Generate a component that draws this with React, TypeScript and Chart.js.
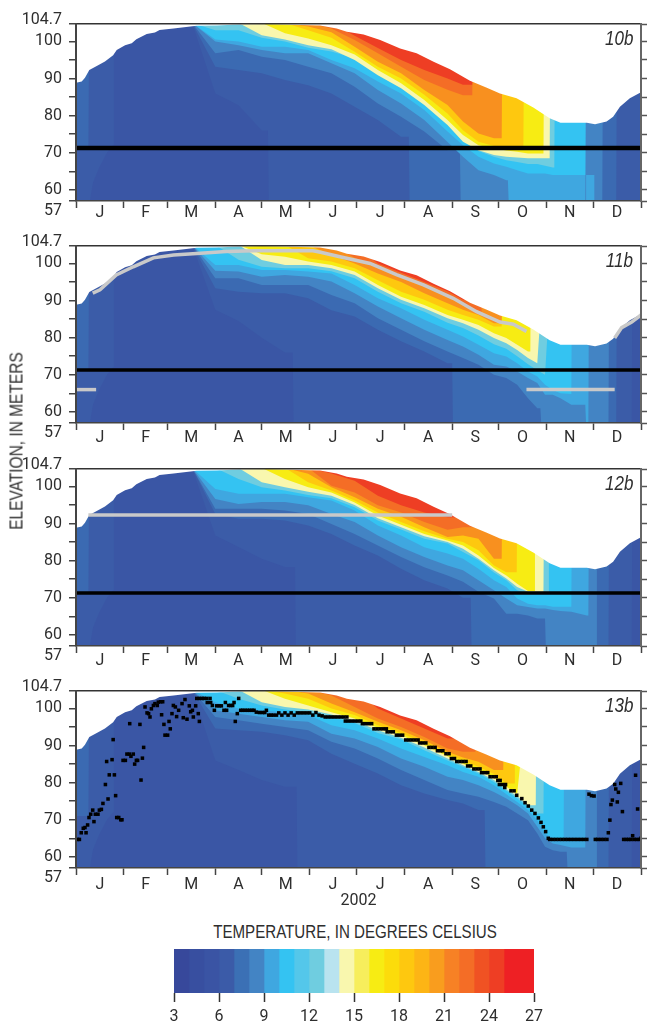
import React, { useEffect, useRef } from "react";
import Chart from "chart.js/auto";

const TICK_FONT = "Roboto, 'Liberation Sans', sans-serif";
const TEXT_FONT = "'Liberation Sans', sans-serif";
const INK = "#2e2e2e";
const X = 105; // isotherm absent at this knot: it runs off above the lake surface

const MONTH_STARTS = [0, 31, 59, 90, 120, 151, 181, 212, 243, 273, 304, 334, 365];
const MONTH_LABELS = ["J", "F", "M", "A", "M", "J", "J", "A", "S", "O", "N", "D"];
const Y_TICKS = [57, 60, 65, 70, 75, 80, 85, 90, 95, 100, 104.7];
const RELEASE_ELEVATION = 71.3;

const KNOTS = [0, 7, 15, 30, 45, 60, 75, 90, 105, 120, 135, 150, 165, 180, 195, 210, 225, 240, 250, 260, 270, 278, 285, 292, 298, 303, 308, 313, 320, 330, 340, 350, 358, 365];

const SURFACE_DAYS = [0, 3.7, 5.8, 8.6, 13.4, 18.7, 24, 26.3, 31.7, 36, 39, 45.7, 51, 54, 63, 78, 91, 101, 120, 157.6, 168.4, 175, 185.8, 196.5, 209.4, 220, 231, 241.6, 254.5, 265, 273.9, 284.6, 295.4, 306, 313, 330, 335.3, 342.8, 347, 351.4, 357.8, 365];
const SURFACE_ELEV = [88.9, 89.2, 90.2, 92.3, 93.4, 94.6, 96.3, 97.7, 99, 99.5, 100.6, 102, 102.4, 103.1, 103.5, 104.2, 104.3, 104.5, 104.7, 104.3, 103.5, 102.6, 101.9, 100.4, 98.1, 96.8, 94.5, 92.5, 89.4, 87.6, 86, 84.7, 82.2, 79.3, 78.1, 78.1, 77.7, 78.4, 79.7, 82.4, 84.7, 86.3];

const BASE_COLOR = "#3a56a5";
const LEVEL_COLORS = ["#3b5ca8", "#3b6ab2", "#4384c4", "#3fa7e0", "#34c3f2", "#6fcde0", "#f9f7ae", "#f7ec13", "#fec80f", "#f8901f", "#f46d26", "#ee3e24"];

// Early-January cool-water bands, shared by the panels: [day, elevation]
const JAN_L6 = [[0, 57], [9, 57], [11, 62], [15, 66], [20, 70], [24, 72], [24.5, X], [365, X]];
const JAN_L7 = [[0, 71], [8, 71], [8.5, X], [365, X]];

// Each array: elevation of one isotherm at each knot (levels 6,7,8,9,10,12,14,16,18,20,22,24 C)
const P10_L6 = [X, X, X, X, X, X, X, 86, 82.8, 76, 57, 57, 57, 57, 57, 57, 57, 57, 57, 57, 57, 57, 57, 57, 57, 57, 57, 57, 57, 57, 57, 57, 57, 57];
const P10_L7 = [X, X, X, X, X, X, X, 93.2, 92.3, 91.4, 89.6, 88.2, 86, 82.4, 78.8, 74.3, 57, 57, 57, 57, 57, 57, 57, 57, 57, 57, 57, 57, 57, 57, 57, 57];
const P10_L8 = [X, X, X, X, X, X, X, 96.8, 97.7, 95.9, 95, 93.2, 91.4, 87.8, 83.3, 79.7, 75.7, 70.7, 57, 57, 57, 57, 57, 57, 57, 57, 57, 57, 57, 57];
const P10_L9 = [X, X, X, X, X, X, X, 100, 99, 97.7, 96.8, 96.8, 94.1, 91.4, 86.9, 83.3, 78.8, 72.9, 68.9, 65.3, 64, 62.6, 57, 57, 57, 57, 57, 57, 57];
const P10_L10 = [X, X, X, X, X, X, X, 100.5, 100, 98.6, 98.6, 97.7, 95, 92.8, 89.2, 86, 81.5, 75.7, 72, 68.9, 67.1, 66.2, 65.3, 64.4, 64.4, 64.4, 64, 64, 64];
const P10_L12 = [X, X, X, X, X, X, X, 103, 103, 101, 100, 98.3, 97.3, 95.5, 91.5, 88, 84, 78, 73.5, 70.5, 68.9, 68, 67.5, 67, 67, 66.5, 66];
const P10_L14 = [X, X, X, X, X, X, X, X, X, 101.7, 100.5, 99, 97.9, 95, 90.9, 87.4, 82.9, 77.5, 73, 70.7, 69.4, 68.9, 68.7, 68.5, 68.5, 68.5];
const P10_L16 = [X, X, X, X, X, X, X, X, X, X, 102.2, 100.8, 99, 96.5, 92.3, 88.7, 84.2, 78.8, 74.8, 72, 71.2, 70.6, 70.3, 69.8, 69.8];
const P10_L18 = [X, X, X, X, X, X, X, X, X, X, X, 103, 101, 97.2, 93.2, 90, 85.6, 80.6, 76.1, 73, 71.8, 71.5, 71.4];
const P10_L20 = [X, X, X, X, X, X, X, X, X, X, X, 104, 102.5, 98.6, 94.5, 91.4, 86.9, 82.9, 78.4, 75.2, 73.9];
const P10_L22 = [X, X, X, X, X, X, X, X, X, X, X, X, 103.5, 100.4, 96.8, 93.2, 89.6, 87, 85.5];
const P10_L24 = [X, X, X, X, X, X, X, X, X, X, X, X, X, 101.5, 98.2, 95, 92.3, 90, 88.3];
const P10_DROP = [124, 215, 248, 279, null, null, null, null, null, null, null, null];
const P10_END = [365, 349, 340, 329, 329, 309, 306, 302, 289, 275, 256, 256];

const P11_L6 = [X, X, X, X, X, X, X, 87.5, 84.5, 80, 76, 57, 57, 57, 57, 57, 57, 57, 57, 57, 57, 57, 57, 57, 57, 57, 57, 57, 57, 57, 57, 57, 57];
const P11_L7 = [X, X, X, X, X, X, X, 93.3, 92.4, 92, 92, 90.6, 87.4, 85.7, 82.1, 79, 76.3, 73.1, 57, 57, 57, 57, 57, 57, 57, 57, 57, 57, 57, 57, 57, 57];
const P11_L8 = [X, X, X, X, X, X, X, 96, 96, 94.2, 94.2, 94.2, 91.5, 89.3, 85.2, 82.1, 79, 76.3, 74.5, 72.7, 70, 69.1, 67.3, 63.7, 61, 57, 57, 57, 57, 57, 57];
const P11_L9 = [X, X, X, X, X, X, X, 98, 97.8, 96.4, 96.9, 96.4, 95.1, 92, 88.4, 85.2, 82.1, 79.4, 77.6, 75.4, 72.7, 72.2, 70.9, 69.1, 67.8, 64.6, 64.6, 63.7, 61.9, 57];
const P11_L10 = [X, X, X, X, X, X, X, 99.6, 99.6, 98.2, 98.2, 97.8, 97.3, 94.2, 90.6, 87.9, 84.8, 82.1, 80.3, 78.1, 75.8, 74.9, 73.1, 70.9, 69.5, 67.3, 65.9, 65, 64.8];
const P11_L12 = [X, X, X, X, X, X, X, X, 101, 99.1, 98.7, 98.7, 97.9, 96, 92.4, 89.3, 87, 84, 82.6, 80.6, 78.2, 77, 75, 72.8, 71.2, 70];
const P11_L14 = [X, X, X, X, X, X, X, X, X, 100.9, 99.6, 99.6, 98.7, 96.9, 93.3, 90.2, 87.9, 85.2, 83.9, 82.1, 79.9, 78.5, 76.7, 74.5, 73.1];
const P11_L16 = [X, X, X, X, X, X, X, X, X, 102.5, 101.8, 100.5, 99.6, 97.8, 94.2, 91, 88.8, 86.1, 84.8, 83.4, 81.2, 79.9, 78.1, 76.3];
const P11_L18 = [X, X, X, X, X, X, X, X, X, X, X, 101.4, 100.5, 98.7, 95.5, 92.4, 90.2, 87.5, 86.1, 84.8, 83];
const P11_L20 = [X, X, X, X, X, X, X, X, X, X, X, X, 102.3, 100, 97.3, 95, 92, 89.3, 87.5, 86.1, 83.9];
const P11_L22 = [X, X, X, X, X, X, X, X, X, X, X, X, X, 101.5, 99.1, 96.9, 94.2, 91.5, 89, 87];
const P11_L24 = [X, X, X, X, X, X, X, X, X, X, X, X, X, X, 100, 97.5, 95, 92.5, 90.2];
const P11_DROP = [140, 243, 300, 329, null, null, null, null, null, null, null, null];
const P11_END = [359, 349, 344, 331, 320, 309, 303, 293.5, 275, 275, 262, 255];

const P12_L6 = [X, X, X, X, X, X, X, 86.8, 83.7, 80.5, 78.3, 57, 57, 57, 57, 57, 57, 57, 57, 57, 57, 57, 57, 57, 57, 57, 57, 57, 57, 57, 57, 57, 57];
const P12_L7 = [X, X, X, X, X, X, X, 92.6, 91.3, 91.3, 90.8, 89.5, 87.2, 84.1, 81.4, 77.8, 74.7, 72.5, 70, 57, 57, 57, 57, 57, 57, 57, 57, 57, 57, 57, 57];
const P12_L8 = [X, X, X, X, X, X, X, 94, 94, 94, 93.5, 92.6, 89.9, 87.2, 84.1, 81, 78.2, 76, 74.3, 71.6, 69.8, 65.7, 65.7, 65.2, 64.4, 57, 57, 57, 57, 57];
const P12_L9 = [X, X, X, X, X, X, X, 96.6, 95.3, 95.8, 95.8, 94.9, 92.6, 90.4, 86.8, 83.6, 81, 78.7, 77.4, 74.7, 72, 69.8, 68, 67.5, 67.1, 67.1, 66.7, 66.4, 66.2, 65.2];
const P12_L10 = [X, X, X, X, X, X, X, 99.3, 98, 98, 98, 97.1, 96.2, 93.5, 89.5, 86.8, 83.6, 81.9, 80.5, 77.8, 74.7, 72.9, 69.8, 68.4, 68, 68, 67.6, 67.6, 67.6];
const P12_L12 = [X, X, X, X, X, X, X, X, 102, 99.8, 98.9, 97.7, 96.8, 94.4, 90.8, 88.4, 85.9, 84.6, 82.3, 80.1, 76.8, 74.7, 72, 71.1, 71.1, 71.1];
const P12_L14 = [X, X, X, X, X, X, X, X, X, 101.1, 99.8, 98.6, 97.5, 95, 91.4, 89, 86.6, 85, 83.2, 80.5, 77.4, 75.2, 72.9, 71.6, 71.6];
const P12_L16 = [X, X, X, X, X, X, X, X, X, X, 102, 99.8, 98.4, 95.7, 92.2, 89.7, 87.2, 85.4, 84.1, 81.4, 78, 76, 73.8, 71.8];
const P12_L18 = [X, X, X, X, X, X, X, X, X, X, X, 101.1, 98.9, 96.2, 93, 90.4, 87.9, 85.9, 85, 82.8, 78.7, 76.9];
const P12_L20 = [X, X, X, X, X, X, X, X, X, X, X, 103.4, 99.8, 97.1, 94, 91.8, 89, 86.4, 86.8, 85.9, 80.5];
const P12_L22 = [X, X, X, X, X, X, X, X, X, X, X, X, 100.2, 98.4, 94.9, 93, 90.4, 88.3, 89];
const P12_L24 = [X, X, X, X, X, X, X, X, X, X, X, X, 103.5, 101.5, 97.5, 94.9, 93, 91.7];
const P12_DROP = [141.5, 255, 303, null, null, null, null, null, null, null, null, null];
const P12_END = [359, 344, 336, 331, 320, 305, 302, 296, 284.7, 275, 258, 248];

const P13_L6 = [X, X, X, X, X, X, X, 86, 83.4, 80.7, 78.9, 57, 57, 57, 57, 57, 57, 57, 57, 57, 57, 57, 57, 57, 57, 57, 57, 57, 57, 57, 57, 57, 57];
const P13_L7 = [X, X, X, X, X, X, X, 94.6, 94.1, 93.7, 92.8, 91.4, 87.8, 85.1, 82.5, 79.3, 77.1, 75.3, 74.4, 72.6, 57, 57, 57, 57, 57, 57, 57, 57, 57, 57, 57];
const P13_L8 = [X, X, X, X, X, X, X, 97.7, 96.8, 95.9, 95, 94.1, 91, 89.2, 86.5, 83.4, 80.7, 78, 77.1, 76.2, 74.8, 73.5, 71.7, 69.9, 66.3, 62.7, 61.8, 61.4, 57, 57];
const P13_L9 = [X, X, X, X, X, X, X, 99.5, 98.6, 97.7, 96.8, 96.4, 93.2, 91.9, 89.6, 86.5, 84.3, 81.6, 80.7, 79.3, 77.5, 75.7, 73.9, 71.7, 68.1, 65, 63.6, 63.2, 62.5];
const P13_L10 = [X, X, X, X, X, X, X, 101.7, 100, 99.5, 99, 98.2, 95.5, 94.1, 91.9, 89.2, 86.9, 84.7, 82.9, 81.6, 79.3, 76.9, 74.8, 72.6, 69.9, 66.3, 65, 64.5];
const P13_L12 = [X, X, X, X, X, X, X, X, 102.6, 100.8, 99.7, 99, 97.7, 96.1, 93.4, 91.6, 88.7, 86, 84.3, 82.5, 80.2, 77.8, 75.7, 73.5, 71.7];
const P13_L14 = [X, X, X, X, X, X, X, X, X, 101.7, 100.4, 99.7, 98.4, 96.6, 94.1, 92.1, 89.5, 86.5, 84.7, 82.9, 80.7, 78.2, 76.4, 73.9];
const P13_L16 = [X, X, X, X, X, X, X, X, X, X, 102.6, 100.8, 99, 97.3, 94.8, 92.8, 90.1, 87.1, 85.1, 83.4, 81.4, 78.9, 77.1];
const P13_L18 = [X, X, X, X, X, X, X, X, X, X, 104, 102.6, 100, 98.2, 95.5, 93.4, 90.7, 87.7, 86, 84.3, 82.3, 79.8];
const P13_L20 = [X, X, X, X, X, X, X, X, X, X, X, 104, 101.3, 99, 96.4, 94.1, 91.4, 88.3, 86.8, 85.6, 83.4];
const P13_L22 = [X, X, X, X, X, X, X, X, X, X, X, X, 103.5, 100.4, 97.3, 95, 92.3, 89.2, 88.3];
const P13_L24 = [X, X, X, X, X, X, X, X, X, X, X, X, X, X, 100, 97.3, 94.6, 91.9];
const P13_DROP = [142.5, 264, 317, null, null, null, null, null, null, null, null, null];
const P13_END = [359, 344, 336, 329, 315, 302, 297, 292.5, 283, 276, 258, 248];

// Deep warm patch under cooler water in 10b: [day, elevation]
const PATCH_10 = [[329.5, 64], [335, 64]];

// grey withdrawal lines: [day, elevation]
const GREY_11A = [[0, 66], [13, 66]];
const GREY_11B = [[291, 66], [348, 66]];
const GREY_11C = [[10.8, 92], [15.5, 92.9], [26, 96.9], [37, 99.1], [50, 101.5], [63, 102.3], [78, 102.7], [97, 103.2], [115, 103.4], [153, 103.4], [158, 103], [170.5, 101.8], [190, 100], [207, 97], [224.5, 94.2], [243.7, 90.6], [258.8, 87], [273.9, 84.2], [282.5, 83.6], [291, 81.7]];
const GREY_11D = [[348, 79.9], [352.5, 82.7], [359, 84.2], [365, 86.1]];
const GREY_12A = [[8, 92.3], [243, 92.3]];

// black 13b points: [day, elevation]
const DOTS_13 = [
  [0.9, 64.7], [2.2, 64.7], [3.4, 66.5], [4.7, 67.7], [5.8, 67.9], [6.5, 66.5], [7.5, 68.6], [8.4, 70.6], [9.5, 71.5], [10.8, 72.6], [11.6, 69.5], [12.5, 71.5], [14.2, 71.5], [15.1, 72.6], [16.4, 72.8], [17.4, 74.4], [19, 79.5], [19.8, 85.7], [20.7, 75.6], [21.5, 82.1], [23.3, 86.2], [24, 91.6], [24.8, 82.1], [25.6, 76.5], [26.3, 70.6], [27.6, 70.6], [28.9, 70], [29.7, 70],
  [30.4, 86], [31.9, 86], [32.9, 87.7], [34.5, 87.7], [34.7, 95.9], [35.5, 87.1], [37, 87.7], [37.9, 85], [39, 86], [39.8, 86], [41.3, 95.7], [42, 80.7], [42.9, 86.6], [43.7, 89.5], [44.6, 100.4], [45.9, 98.8], [46.9, 98.6], [47.8, 97.7], [48.7, 99.9], [50, 100.8], [51, 101.3], [52.5, 100.8], [53.2, 101.7], [54.7, 101.8], [56, 101.8], [55.3, 98.3], [56.8, 95.7], [57.5, 92.8], [59.2, 92.8],
  [60.1, 96.5], [60.9, 94.5], [62, 98.6], [62.9, 100.8], [64.2, 100.4], [65, 97.8], [66.3, 99.5], [68.5, 101.3], [69.3, 97.5], [70.4, 102.4], [71.7, 97.1], [73.2, 100.7], [74.1, 99.1], [75.2, 99.5], [75.8, 97.7], [77.3, 100.7], [79, 98.6], [79.7, 96.5], [78, 102.7], [79.7, 102.7], [81.4, 102.7], [82.7, 102.7], [84.4, 102.7], [86.6, 102.7], [84.8, 101.6], [87, 101.6], [88.1, 100.8], [89.4, 99.5],
  [90.9, 100.7], [92.6, 100.7], [93.9, 100.7], [95.6, 99.5], [96.5, 101.6], [97.3, 99.5], [98.6, 100.8], [99.9, 100.8], [101.2, 100.8], [102.1, 101.6], [102.9, 96.5], [104.2, 98.6], [105.1, 102.7], [106.4, 99.5], [107.7, 99.5], [109.2, 99.5], [110.7, 99.5], [112.2, 99.5], [113.7, 99.5], [115, 99.5], [116.5, 99], [118.5, 98.9], [120.5, 98.9], [122, 98.9],
  [123, 99.5], [124.5, 98.2], [126, 98.2], [127.5, 98.2], [129.5, 98.2], [131, 98.8], [133, 98.2], [135, 98.8], [137, 98.2], [139, 98.8], [141, 98.2], [143, 98.8], [145, 98.8], [147, 98.8], [149, 98.8], [151, 98.8], [153, 98.2], [155, 98.9], [157, 98.2], [159, 98], [161, 97.7], [163, 97.7], [165, 97.7], [167, 97.7], [169, 97.7], [171, 97.7], [173, 97.7], [175, 97.7], [174, 96.6], [176, 96.6], [178, 96.6], [180, 96.6], [182, 96.6], [184, 96.6],
  [185, 95.9], [187, 95.9], [189, 95.9], [191, 95.9], [192.5, 94.5], [194.5, 94.5], [196.5, 94.5], [198.5, 94.5], [200.5, 94.5], [201, 93.7], [203, 93.7], [205, 93.7], [207, 92.8], [209, 92.8], [211, 92.8], [213, 91.5], [215, 91.5], [217, 91.5], [219, 91.5], [221, 91.5], [222, 90.7], [224, 90.7], [226, 90.7], [228, 89.5], [230, 89.5], [232, 89.5], [233.5, 88.6], [235.5, 88.6], [237, 88.6], [239, 87.8], [241, 87.8],
  [242.5, 86.5], [244.5, 86.5], [246, 85.7], [248, 85.7], [250, 85.7], [252, 85.7], [253, 84.5], [255, 84.5], [257, 83.7], [259, 83.7], [261, 83.7], [262, 82.7], [264, 82.7], [266, 82.7], [267.5, 81.6], [269.5, 81.6], [271.5, 81.6], [272.5, 80.6], [274, 80.6], [273.5, 79.5], [275.5, 79.5], [277.5, 79.5], [277, 78.7], [281, 77.8], [283, 77.8], [284.7, 76.6], [288, 75.7], [290.1, 74.6], [292.2, 73.7], [294.4, 72.6], [296.5, 71.7], [298.7, 70.5], [300.4, 69.3], [301.9, 68.1], [303.4, 66.8], [305.1, 65],
  [306, 64.7], [308, 64.7], [310, 64.7], [312, 64.7], [314, 64.7], [316, 64.7], [318, 64.7], [320, 64.7], [322, 64.7], [324, 64.7], [326, 64.7], [328, 64.7], [330, 64.7], [331.4, 76.9], [333, 76.5], [334.7, 76.4], [335.5, 64.7], [337, 64.7], [339, 64.7], [341, 64.7], [343, 64.7], [343.9, 66.5], [344.9, 69.9], [345.6, 74.1], [346.5, 75.3], [348, 79.5], [348.7, 78.3], [349.7, 74.8], [350.4, 77.4], [351.9, 79.8], [353, 72.2], [353.8, 64.7], [355.5, 64.7], [357, 64.7], [358.5, 64.7], [359.6, 65.7], [360.5, 64.7], [361.5, 82], [362.2, 64.7], [362.8, 72.9], [364, 64.7], [365, 65],
];

const TEMP_TICKS = [3, 6, 9, 12, 15, 18, 21, 24, 27];
const TEMP_BANDS = [3, 4, 5, 6, 7, 8, 9, 10, 11, 12, 13, 14, 15, 16, 17, 18, 19, 20, 21, 22, 23, 24, 25, 27];
const TEMP_COLORS = ["#37489b", "#384fa0", "#3a54a4", "#3b5ba8", "#3b70b5", "#4384c4", "#3fa7e0", "#34c3f2", "#54c7ea", "#6fcde0", "#b9e3ef", "#f9f7ae", "#f7ee5c", "#f7ec13", "#fcdc0b", "#fec80f", "#fdb515", "#f99d1e", "#f78125", "#f46d26", "#f05223", "#ee3e24", "#ee2024"];

type Line = { pts: number[][]; color: string; width: number };
const noPad = (s: any) => { s.paddingTop = 0; s.paddingBottom = 0; s.paddingLeft = 0; s.paddingRight = 0; };
const TOP_PAD = 20;

// One isotherm becomes chart points: it follows the knots, falls straight to the
// lake bed on its drop day and leaves the water column on its end day.
function layerPoints(arr: number[], drop: number | null, end: number) {
  const pts: { x: number; y: number }[] = [];
  let last = X;
  for (let i = 0; i < KNOTS.length; i++) {
    const d = KNOTS[i];
    if (d > end) break;
    if (drop != null && d >= drop) break;
    last = arr[i] ?? X;
    pts.push({ x: d, y: last });
  }
  if (drop != null && drop <= end) {
    pts.push({ x: drop, y: last }, { x: drop + 0.5, y: 57 });
    last = 57;
  }
  if (end < 365) pts.push({ x: end, y: last }, { x: end + 0.5, y: X }, { x: 365, y: X });
  else pts.push({ x: 365, y: last });
  return pts;
}

function Panel({ top, layers, drops, ends, lines, dots, patch, labelPad, axisHeight, year }: any) {
  const ref = useRef<HTMLCanvasElement>(null);
  useEffect(() => {
    const fillDs = (data: any[], color: string, fill: string, order: number) => ({
      data, fill, backgroundColor: color, borderWidth: 0, pointRadius: 0, order,
    });
    const toXY = (pts: number[][]) => pts.map(([x, y]) => ({ x, y }));
    const datasets: any[] = [fillDs(toXY([[0, X], [365, X]]), BASE_COLOR, "start", 100)];
    datasets.push(fillDs(toXY(JAN_L6), LEVEL_COLORS[0], "end", 95));
    datasets.push(fillDs(toXY(JAN_L7), LEVEL_COLORS[1], "end", 94));
    layers.forEach((arr: number[], k: number) => {
      datasets.push(fillDs(layerPoints(arr, drops[k], ends[k]), LEVEL_COLORS[k], "end", 90 - k));
    });
    if (patch) datasets.push(fillDs(toXY(patch), LEVEL_COLORS[3], "start", 30));
    datasets.push(fillDs(SURFACE_DAYS.map((x, i) => ({ x, y: SURFACE_ELEV[i] })), "#fff", "end", 20));
    (lines as Line[]).forEach((l) => {
      datasets.push({
        data: toXY(l.pts),
        borderColor: l.color,
        borderWidth: l.width,
        pointRadius: 0,
        fill: false,
        borderCapStyle: "butt",
        order: 5,
      });
    });
    if (dots) {
      datasets.push({
        data: toXY(dots),
        showLine: false,
        pointStyle: "rect",
        pointRadius: 2.5,
        pointBorderWidth: 0,
        pointBackgroundColor: "#000",
        order: 1,
      });
    }
    const monthMids = MONTH_LABELS.map((_, i) => (MONTH_STARTS[i] + MONTH_STARTS[i + 1]) / 2);
    const chart = new Chart(ref.current!, {
      type: "line",
      data: { datasets },
      options: {
        animation: false,
        responsive: false,
        layout: { padding: { top: TOP_PAD, left: 0, right: 0, bottom: 0 } },
        plugins: { legend: { display: false }, tooltip: { enabled: false } },
        scales: {
          x: {
            type: "linear",
            min: 0,
            max: 365,
            afterBuildTicks: (s: any) => {
              s.ticks = [...MONTH_STARTS, ...monthMids].sort((a, b) => a - b).map((value) => ({ value }));
            },
            afterFit: (s: any) => { s.height = axisHeight; noPad(s); },
            border: { color: "#444", width: 1.5, z: 1 },
            grid: {
              z: 1,
              drawOnChartArea: false,
              tickLength: 7,
              tickWidth: 1.5,
              tickColor: (c: any) => (MONTH_STARTS.includes(c.tick.value) ? "#444" : "rgba(0,0,0,0)"),
            },
            ticks: {
              autoSkip: false,
              maxRotation: 0,
              padding: labelPad,
              color: INK,
              font: { family: TICK_FONT, size: 16 },
              callback: (v: any) => {
                const i = monthMids.indexOf(v);
                return i >= 0 ? MONTH_LABELS[i] : "";
              },
            },
            title: year
              ? { display: true, text: year, color: INK, font: { family: TICK_FONT, size: 16 }, padding: { top: 0, bottom: 3 } }
              : { display: false },
          },
          y: {
            min: 57,
            max: 104.7,
            afterBuildTicks: (s: any) => { s.ticks = Y_TICKS.map((value) => ({ value })); },
            afterFit: (s: any) => { s.width = 76; noPad(s); },
            border: { color: "#444", width: 2, z: 1 },
            grid: {
              z: 1,
              drawOnChartArea: true,
              lineWidth: 1.5,
              color: (c: any) => (c.tick && c.tick.value === 104.7 ? "#333" : "rgba(0,0,0,0)"),
              tickLength: 7,
              tickWidth: 1.5,
              tickColor: "#444",
            },
            ticks: {
              autoSkip: false,
              padding: 7,
              color: INK,
              font: (c: any) => ({
                family: TICK_FONT,
                size: 16,
                lineHeight: c.tick && c.tick.value === 104.7 ? 0.5 : c.tick && c.tick.value === 57 ? 1.2 : 1.2,
              }),
              callback: (v: any) => {
                if (v === 57) return ["", "57"];
                if (v === 104.7) return ["104.7", ""];
                return v % 10 === 0 ? String(v) : "";
              },
            },
          },
          y2: {
            position: "right",
            min: 57,
            max: 104.7,
            afterBuildTicks: (s: any) => { s.ticks = Y_TICKS.map((value) => ({ value })); },
            afterFit: (s: any) => { s.width = 6; noPad(s); },
            border: { color: "#666", width: 2, z: 1 },
            grid: { z: 1, drawOnChartArea: false, tickLength: 6, tickWidth: 1.5, tickColor: "#555" },
            ticks: { display: false, autoSkip: false },
          },
        },
      } as any,
    });
    return () => chart.destroy();
  }, []);
  return (
    <canvas
      ref={ref}
      width={647}
      height={TOP_PAD + 177 + axisHeight}
      style={{ position: "absolute", left: 0, top: top - TOP_PAD, display: "block" }}
    />
  );
}

function ColorBar() {
  const ref = useRef<HTMLCanvasElement>(null);
  useEffect(() => {
    const chart = new Chart(ref.current!, {
      type: "bar",
      data: {
        labels: ["T"],
        datasets: TEMP_COLORS.map((c, i) => ({
          data: [[TEMP_BANDS[i], TEMP_BANDS[i + 1] ?? 27]],
          backgroundColor: c,
          borderWidth: 0,
          barPercentage: 1,
          categoryPercentage: 1,
          grouped: false,
        })),
      },
      options: {
        indexAxis: "y",
        animation: false,
        responsive: false,
        layout: { padding: { left: 174, right: 113, top: 0, bottom: 0 } },
        plugins: { legend: { display: false }, tooltip: { enabled: false } },
        scales: {
          x: {
            type: "linear",
            min: 3,
            max: 27,
            afterBuildTicks: (s: any) => { s.ticks = TEMP_TICKS.map((value) => ({ value })); },
            afterFit: (s: any) => { s.height = 32; noPad(s); },
            border: { display: false },
            grid: { drawOnChartArea: false, tickLength: 9, tickWidth: 1.5, tickColor: "#333" },
            ticks: { autoSkip: false, maxRotation: 0, padding: 5, color: INK, font: { family: TICK_FONT, size: 16 } },
          },
          y: { display: false },
        },
      } as any,
    });
    return () => chart.destroy();
  }, []);
  return <canvas ref={ref} width={647} height={76} style={{ position: "absolute", left: 0, top: 949, display: "block" }} />;
}

const tagStyle = (top: number): React.CSSProperties => ({
  position: "absolute",
  right: 14,
  top,
  font: `italic 20px ${TEXT_FONT}`,
  color: INK,
  lineHeight: "20px",
  transform: "scaleX(0.85)",
  transformOrigin: "right center",
});

export default function App() {
  const release = { pts: [[0, RELEASE_ELEVATION], [365, RELEASE_ELEVATION]], color: "#000", width: 4 };
  const grey = "#c9c9c9";
  return (
    <div style={{ position: "absolute", left: 0, top: 0, width: 647, height: 1025, background: "#fff", overflow: "hidden" }}>
      <Panel top={24} labelPad={-5} axisHeight={32} drops={P10_DROP} ends={P10_END} patch={PATCH_10}
        layers={[P10_L6, P10_L7, P10_L8, P10_L9, P10_L10, P10_L12, P10_L14, P10_L16, P10_L18, P10_L20, P10_L22, P10_L24]}
        lines={[{ ...release, width: 4.5 }]} />
      <Panel top={246} labelPad={-2} axisHeight={32} drops={P11_DROP} ends={P11_END}
        layers={[P11_L6, P11_L7, P11_L8, P11_L9, P11_L10, P11_L12, P11_L14, P11_L16, P11_L18, P11_L20, P11_L22, P11_L24]}
        lines={[
          { ...release, width: 3.5 },
          { pts: GREY_11A, color: grey, width: 3.5 },
          { pts: GREY_11B, color: grey, width: 3.5 },
          { pts: GREY_11C, color: grey, width: 3.5 },
          { pts: GREY_11D, color: grey, width: 3.5 },
        ]} />
      <Panel top={468.5} labelPad={-2} axisHeight={32} drops={P12_DROP} ends={P12_END}
        layers={[P12_L6, P12_L7, P12_L8, P12_L9, P12_L10, P12_L12, P12_L14, P12_L16, P12_L18, P12_L20, P12_L22, P12_L24]}
        lines={[{ ...release, width: 3.5 }, { pts: GREY_12A, color: grey, width: 3.5 }]} />
      <Panel top={691} labelPad={0} axisHeight={46} year="2002" drops={P13_DROP} ends={P13_END}
        layers={[P13_L6, P13_L7, P13_L8, P13_L9, P13_L10, P13_L12, P13_L14, P13_L16, P13_L18, P13_L20, P13_L22, P13_L24]}
        lines={[]} dots={DOTS_13} />
      <ColorBar />
      <div style={tagStyle(28)}>10b</div>
      <div style={tagStyle(250)}>11b</div>
      <div style={tagStyle(473)}>12b</div>
      <div style={tagStyle(695)}>13b</div>
      <div style={{ position: "absolute", left: 354.5, top: 932, transform: "translate(-50%,-50%) scaleX(0.84)", whiteSpace: "nowrap", font: `18px ${TEXT_FONT}`, color: INK }}>
        TEMPERATURE, IN DEGREES CELSIUS
      </div>
      <div style={{ position: "absolute", left: 17, top: 441, transform: "translate(-50%,-50%) rotate(-90deg) scaleX(0.86)", whiteSpace: "nowrap", font: `18px ${TEXT_FONT}`, color: INK }}>
        ELEVATION, IN METERS
      </div>
    </div>
  );
}
